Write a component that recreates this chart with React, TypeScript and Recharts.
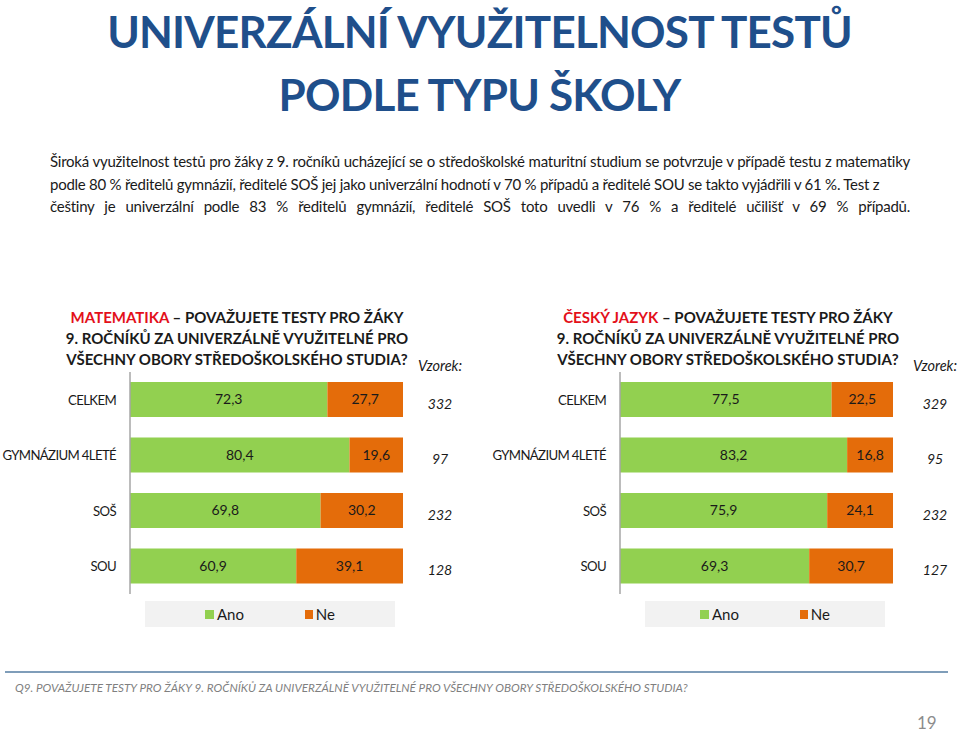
import { Bar, BarChart, LabelList, XAxis, YAxis } from "recharts";

const categories = ["CELKEM", "GYMNÁZIUM 4LETÉ", "SOŠ", "SOU"];
const matAno = [72.3, 80.4, 69.8, 60.9];
const matNe = [27.7, 19.6, 30.2, 39.1];
const matVzorek = [332, 97, 232, 128];
const cjAno = [77.5, 83.2, 75.9, 69.3];
const cjNe = [22.5, 16.8, 24.1, 30.7];
const cjVzorek = [329, 95, 232, 127];
const seriesNames = ["Ano", "Ne"];
const seriesColors = ["#92D050", "#E46C0A"];

const FONT = "Lato, 'Open Sans', sans-serif";
const TITLE_BLUE = "#1F4F8B";

const paragraph = [
  "Široká využitelnost testů pro žáky z 9. ročníků ucházející se o středoškolské maturitní studium se potvrzuje v případě testu z matematiky",
  "podle 80 % ředitelů gymnázií, ředitelé SOŠ jej jako univerzální hodnotí v 70 % případů a ředitelé SOU se takto vyjádřili v 61 %. Test z",
  "češtiny je univerzální podle 83 % ředitelů gymnázií, ředitelé SOŠ toto uvedli v 76 % a ředitelé učilišť v 69 % případů.",
];

const fmt = (v: any) => Number(v).toFixed(1).replace(".", ",");

// category names, kept on one line
const CatTick = (props: any) => {
  const { x, y, payload } = props;
  return (
    <text x={x} y={y} dy={5} textAnchor="end" fontSize={13.2} letterSpacing={-0.65} fill="#1a1a1a" fontFamily={FONT}>
      {payload.value}
    </text>
  );
};

const SampleTick = (props: any) => {
  const { x, y, index, samples, shift } = props;
  return (
    <text x={x + shift} y={y} dy={9} textAnchor="middle" fontStyle="italic" fontSize={14} fill="#1a1a1a" fontFamily={FONT}>
      {samples[index]}
    </text>
  );
};

type PanelProps = {
  left: number;
  subject: string;
  lines: string[];
  ano: number[];
  ne: number[];
  samples: number[];
  axisW: number;
  rightW: number;
  shift: number;
  titleCenter: number;
  legendLeft: number;
  legendW: number;
};

function Panel(p: PanelProps) {
  const data = categories.map((c, i) => ({ name: c, ano: p.ano[i], ne: p.ne[i] }));
  const width = p.axisW + 273 + p.rightW;
  return (
    <>
      <div
        style={{
          position: "absolute",
          left: p.titleCenter - 200,
          width: 400,
          top: 307,
          textAlign: "center",
          fontFamily: FONT,
          fontWeight: 700,
          fontSize: 15,
          lineHeight: "21px",
          color: "#1a1a1a",
        }}
      >
        <span style={{ color: "#E3101A" }}>{p.subject}</span>
        {p.lines[0]}
        <br />
        {p.lines[1]}
        <br />
        {p.lines[2]}
      </div>
      <div
        style={{
          position: "absolute",
          left: p.left + p.axisW + 273 + p.shift - 40,
          width: 80,
          top: 357,
          textAlign: "center",
          fontFamily: FONT,
          fontStyle: "italic",
          fontSize: 14.5,
          color: "#1a1a1a",
        }}
      >
        Vzorek:
      </div>
      <div style={{ position: "absolute", left: p.left, top: 372 }}>
        <BarChart
          width={width}
          height={222}
          data={data}
          layout="vertical"
          margin={{ top: 0, right: 0, bottom: 0, left: 0 }}
          barSize={35}
          style={{ overflow: "visible" }}
        >
          <XAxis type="number" domain={[0, 100]} hide />
          <YAxis
            type="category"
            dataKey="name"
            width={p.axisW}
            tickLine={false}
            tickSize={0}
            tickMargin={14}
            axisLine={{ stroke: "#A6A6A6", strokeWidth: 1.5 }}
            tick={<CatTick />}
          />
          <YAxis
            yAxisId="n"
            orientation="right"
            type="category"
            dataKey="name"
            width={p.rightW}
            tickLine={false}
            tickSize={0}
            tickMargin={0}
            axisLine={false}
            tick={<SampleTick samples={p.samples} shift={p.shift} />}
          />
          <Bar dataKey="ano" name={seriesNames[0]} stackId="s" fill={seriesColors[0]} isAnimationActive={false}>
            <LabelList dataKey="ano" position="center" formatter={fmt} fill="#1a1a1a" fontSize={14} fontFamily={FONT} />
          </Bar>
          <Bar dataKey="ne" name={seriesNames[1]} stackId="s" fill={seriesColors[1]} isAnimationActive={false}>
            <LabelList dataKey="ne" position="center" formatter={fmt} fill="#1a1a1a" fontSize={14} fontFamily={FONT} />
          </Bar>
        </BarChart>
      </div>
      <div
        style={{
          position: "absolute",
          left: p.legendLeft,
          top: 601,
          width: p.legendW,
          height: 26,
          background: "#F2F2F2",
          display: "flex",
          alignItems: "center",
          justifyContent: "center",
          fontFamily: FONT,
          fontSize: 15,
          color: "#1a1a1a",
        }}
      >
        {seriesNames.map((n, i) => (
          <span key={n} style={{ display: "inline-flex", alignItems: "center", width: i === 0 ? 100 : 30 }}>
            <span style={{ width: 9, height: 9, background: seriesColors[i], marginRight: 3 }} />
            {n}
          </span>
        ))}
      </div>
    </>
  );
}

export default function App() {
  return (
    <div style={{ position: "absolute", left: 0, top: 0, width: 959, height: 733, background: "#fff", overflow: "hidden" }}>
      <div
        style={{
          position: "absolute",
          left: 0,
          width: 959,
          top: 0,
          textAlign: "center",
          fontFamily: FONT,
          fontWeight: 700,
          fontSize: 44,
          letterSpacing: -0.8,
          lineHeight: "63px",
          color: TITLE_BLUE,
        }}
      >
        UNIVERZÁLNÍ VYUŽITELNOST TESTŮ
        <br />
        PODLE TYPU ŠKOLY
      </div>
      <div
        style={{
          position: "absolute",
          left: 50,
          top: 150,
          width: 860,
          fontFamily: FONT,
          fontSize: 15,
          letterSpacing: -0.25,
          lineHeight: "22.5px",
          color: "#1a1a1a",
        }}
      >
        {paragraph.map((l, i) => (
          <div key={i} style={{ textAlign: "justify", textAlignLast: i === 1 ? "auto" : "justify", whiteSpace: "nowrap" }}>
            {l}
          </div>
        ))}
      </div>
      <Panel
        left={0}
        subject="MATEMATIKA"
        lines={[" –  POVAŽUJETE TESTY PRO ŽÁKY", "9. ROČNÍKŮ ZA UNIVERZÁLNĚ VYUŽITELNÉ PRO", "VŠECHNY OBORY STŘEDOŠKOLSKÉHO STUDIA?"]}
        ano={matAno}
        ne={matNe}
        samples={matVzorek}
        axisW={130}
        rightW={77}
        shift={37}
        titleCenter={237}
        legendLeft={145}
        legendW={250}
      />
      <Panel
        left={480}
        subject="ČESKÝ JAZYK"
        lines={[" –  POVAŽUJETE TESTY PRO ŽÁKY", "9. ROČNÍKŮ ZA UNIVERZÁLNĚ VYUŽITELNÉ PRO", "VŠECHNY OBORY STŘEDOŠKOLSKÉHO STUDIA?"]}
        ano={cjAno}
        ne={cjNe}
        samples={cjVzorek}
        axisW={140}
        rightW={66}
        shift={42}
        titleCenter={728}
        legendLeft={645}
        legendW={240}
      />
      <div style={{ position: "absolute", left: 5, top: 671, width: 943, height: 2, background: "#7F9DB9" }} />
      <div
        style={{
          position: "absolute",
          left: 15,
          top: 680,
          fontFamily: FONT,
          fontStyle: "italic",
          fontSize: 11.7,
          color: "#7F7F7F",
          whiteSpace: "nowrap",
        }}
      >
        Q9. POVAŽUJETE TESTY PRO ŽÁKY 9. ROČNÍKŮ ZA UNIVERZÁLNĚ VYUŽITELNÉ PRO VŠECHNY OBORY STŘEDOŠKOLSKÉHO STUDIA?
      </div>
      <div style={{ position: "absolute", left: 917, top: 713, fontFamily: FONT, fontSize: 17, lineHeight: "20px", color: "#8C8C8C" }}>
        19
      </div>
    </div>
  );
}
